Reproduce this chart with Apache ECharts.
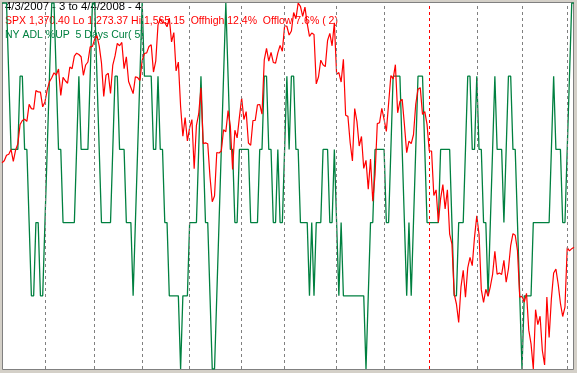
<!DOCTYPE html>
<html><head><meta charset="utf-8">
<script src="https://cdn.jsdelivr.net/npm/echarts@6/dist/echarts.min.js"></script>
<style>html,body{margin:0;padding:0;background:#d4d0c8;overflow:hidden}#c{width:577px;height:373px}</style>
</head><body><div id="c"></div>
<script>
// SPX daily closes 4/3/2007 .. 4/4/2008 (254 trading days)
const spx = [
1437.77,1439.37,1443.76,1444.61,1448.39,1438.87,1447.80,1452.85,1468.33,1471.48,
1472.50,1470.73,1484.35,1480.93,1480.41,1495.42,1494.25,1494.07,1482.37,
1486.30,1495.92,1502.39,1505.62,1509.48,1507.72,1512.58,1491.47,1505.85,1503.15,
1501.19,1514.14,1512.75,1522.75,1525.10,1524.12,1522.28,1507.51,1515.73,1518.11,
1530.23,1530.62,
1536.34,1539.18,1530.95,1517.38,1490.72,1507.67,1509.12,1493.00,1515.67,1522.97,
1532.91,1531.05,1533.70,1512.84,1522.19,1502.56,1497.74,1492.89,1506.34,1505.71,
1503.35,
1519.43,1524.87,1525.40,1530.44,1531.85,1510.12,1518.76,1547.70,1552.50,1549.52,
1549.37,1546.17,1553.08,1534.10,1541.57,1511.04,1518.09,1482.66,1458.95,1473.91,
1455.27,
1465.81,1472.20,1433.06,1467.67,1476.71,1497.49,1453.09,1453.64,1452.92,1426.54,
1406.70,1411.27,1445.94,1445.55,1447.12,1464.07,1462.50,1479.37,1466.79,1432.36,
1463.76,1457.64,1473.99,
1489.42,1472.29,1478.55,1453.55,1451.70,1471.49,1471.56,1483.95,1484.25,1476.65,
1519.78,1529.03,1518.75,1525.75,1517.73,1517.21,1525.42,1531.38,1526.75,
1547.04,1546.63,1539.59,1542.84,1557.59,1552.58,1565.15,1562.47,1554.41,1561.80,
1548.71,1538.53,1541.24,1540.08,1500.63,1506.33,1519.59,1515.88,1514.40,1535.28,
1540.98,1531.02,1549.38,
1508.44,1509.65,1502.17,1520.27,1475.62,1474.77,1453.70,1439.18,1481.05,1470.58,
1451.15,1458.74,1433.27,1439.70,1416.77,1440.70,1407.22,1428.23,1469.02,1469.72,
1481.14,
1472.42,1462.79,1485.01,1507.34,1504.66,1515.96,1477.65,1486.59,1488.41,1467.95,
1445.90,1454.98,1453.00,1460.12,1484.46,1496.45,1497.66,1476.27,1478.49,1468.36,
1447.16,1447.16,1411.63,1416.18,1390.19,1409.13,1420.33,1401.02,1416.25,1380.95,
1373.20,1333.25,1325.19,1310.50,1338.60,1352.07,1330.61,1353.96,1362.30,1355.81,
1378.55,
1395.42,1380.82,1336.64,1326.45,1336.91,1331.29,1339.13,1348.86,1367.21,1348.86,
1349.99,1348.78,1360.03,1342.53,1353.11,1371.80,1381.29,1380.02,1367.68,1330.63,
1331.34,1326.75,1333.70,1304.34,1293.37,1273.37,1320.65,1308.77,1315.48,1288.14,
1276.60,1330.74,1298.42,1329.51,1349.88,1352.99,1341.13,1325.76,1315.22,1322.70,
1370.18,1367.53,1369.31,1370.40
];
// NY ADL % up days over the last 5 days
const adlUp = [
100,100,100,80,60,60,60,60,80,80,
60,60,40,20,20,40,40,20,20,40,
60,80,100,100,80,60,60,40,40,40,
40,40,40,60,80,60,60,60,60,80,
100,100,80,60,40,40,40,40,40,60,
80,80,60,60,60,40,40,40,20,40,
60,80,100,80,80,80,80,60,60,80,
60,60,40,40,20,20,20,20,20,0,
20,20,20,40,40,40,40,60,80,60,
40,40,20,0,0,20,40,60,80,100,
80,60,60,40,40,60,60,60,60,60,
40,40,40,40,60,60,80,80,60,60,
40,40,60,40,40,60,80,60,80,80,
60,60,40,40,40,40,20,40,20,40,
40,40,60,60,60,40,40,60,40,20,
40,20,20,20,20,20,20,20,20,20,
20,0,20,40,40,60,60,60,60,60,
40,40,60,80,80,80,80,60,40,20,
40,20,40,60,80,80,80,60,40,40,
40,40,40,40,60,60,60,60,60,40,
20,20,40,40,40,60,80,80,60,60,
80,60,60,40,40,20,40,60,80,60,
60,60,40,60,80,80,60,60,40,20,
0,20,20,20,20,40,40,40,40,40,
40,40,40,60,80,60,60,60,40,40,
60,80,100,100
];
// first trading day of each month (index into the daily series)
const monthStarts = [19,41,62,83,106,125,148,169,210,230,250];
const yearStarts = [189];
const titleText = '4/3/2007 - 3 to 4/4/2008 - 4';
const spxText = 'SPX 1,370.40 Lo 1,273.37 Hi 1,565.15  Offhigh 12.4%  Offlow 7.6% ( 2)';
const adlText = 'NY ADL %UP  5 Days Cur( 5)';
const spxLo = 1273.37, spxHi = 1565.15;

const chart = echarts.init(document.getElementById('c'), null, {renderer:'canvas'});
const fam = '"Liberation Sans", Arial, sans-serif';
const gridMarks = monthStarts.map(i => ({xAxis:i, lineStyle:{color:'#808080', type:[3,3], width:1}}))
  .concat(yearStarts.map(i => ({xAxis:i, lineStyle:{color:'#ff0000', type:[3,3], width:1}})));
chart.setOption({
  animation:false,
  backgroundColor:'#d4d0c8',
  grid:{left:2, right:3, top:3, bottom:4, show:false},
  xAxis:{type:'value', min:0, max:spx.length-1, show:false},
  yAxis:[
    {type:'value', min:spxLo, max:spxHi, show:false},
    {type:'value', min:0, max:100, show:false}
  ],
  graphic:[
    {type:'rect', shape:{x:2.5, y:2.5, width:571, height:367}, style:{fill:'#ffffff', stroke:'#808080', lineWidth:1}, z:-10, silent:true},
    {type:'text', x:5, y:6.4, style:{text:titleText, fill:'#000000', font:'11.3px ' + fam, verticalAlign:'middle'}, z:-5},
    {type:'text', x:5, y:21.1, style:{text:spxText, fill:'#ff0000', font:'10.5px ' + fam, verticalAlign:'middle'}, z:-5},
    {type:'text', x:5, y:34.7, style:{text:adlText, fill:'#008040', font:'10.5px ' + fam, verticalAlign:'middle'}, z:-5}
  ],
  series:[
    {type:'line', name:'ADL', yAxisIndex:1, data:adlUp.map((v,i)=>[i,v]), showSymbol:false, symbol:'none',
     lineStyle:{color:'#008040', width:1.3}, z:3,
     markLine:{symbol:'none', silent:true, label:{show:false}, data:gridMarks, animation:false}},
    {type:'line', name:'SPX', yAxisIndex:0, data:spx.map((v,i)=>[i,v]), showSymbol:false, symbol:'none',
     lineStyle:{color:'#ff0000', width:1.2}, z:4}
  ]
});
</script>
</body></html>
